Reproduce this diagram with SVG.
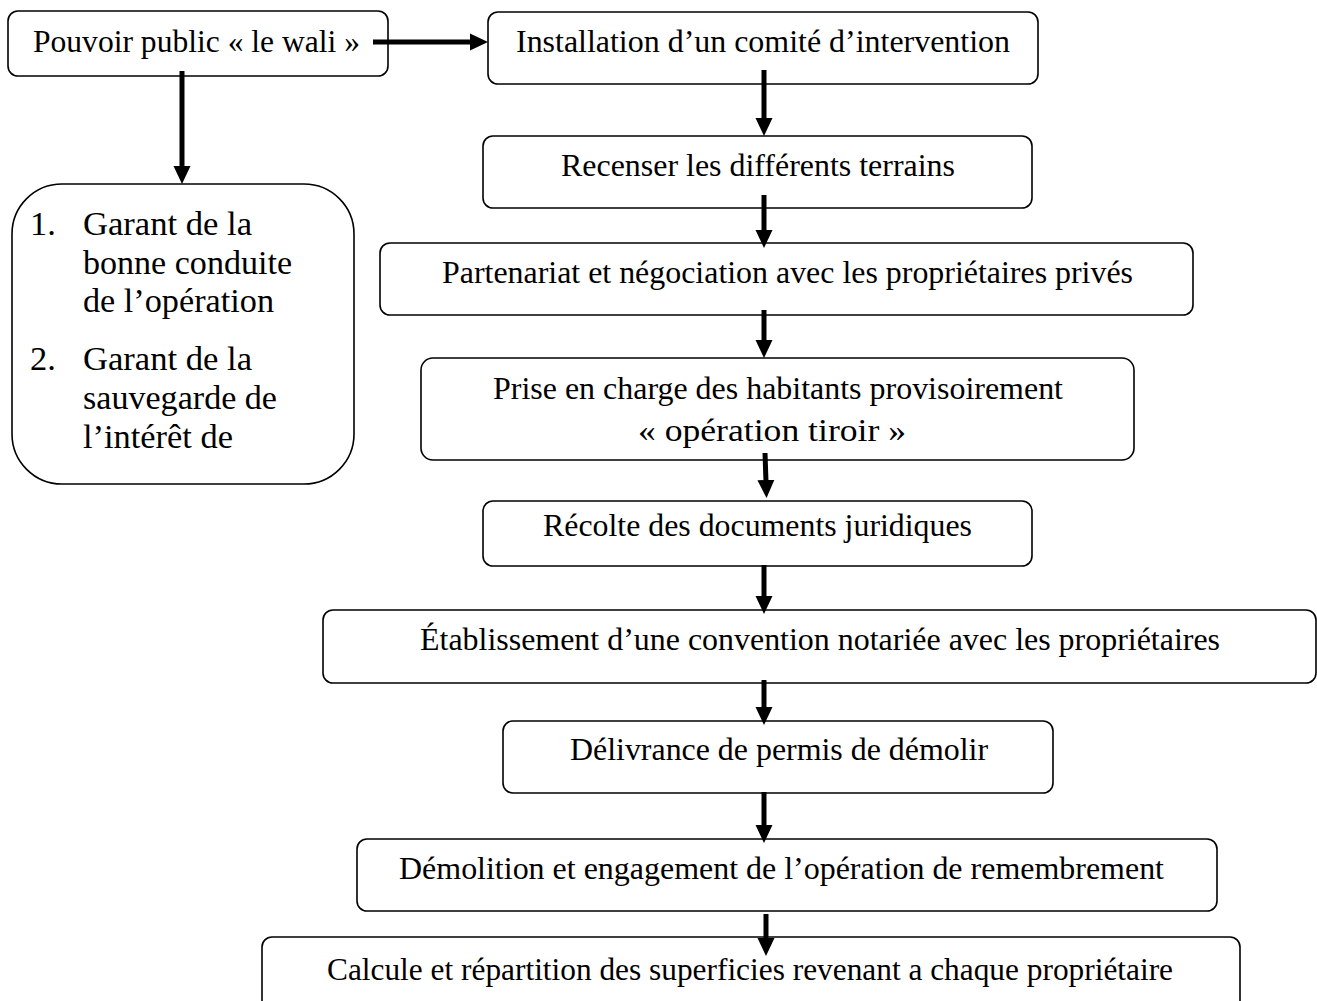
<svg xmlns="http://www.w3.org/2000/svg" width="1317" height="1001" viewBox="0 0 1317 1001">
<style>
.box{fill:#fff;stroke:#000;stroke-width:1.6}
text{font-family:'Liberation Serif','Times New Roman',Times,serif;font-size:32px;fill:#000}
.l{font-size:34.5px}
.e{stroke:#000;stroke-width:5;fill:none}
</style>
<defs>
<marker id="ah" markerWidth="4" markerHeight="4" refX="0.4" refY="2" orient="auto" markerUnits="strokeWidth">
<path d="M0,0.3 L3.6,2 L0,3.7 Z" fill="#000"/>
</marker>
</defs>
<rect width="1317" height="1001" fill="#fff"/>
<g id="n-pouvoir"><rect class="box" x="8" y="11" width="380" height="65" rx="10"/><text x="33" y="52" textLength="327" lengthAdjust="spacingAndGlyphs">Pouvoir public « le wali »</text></g>
<g id="n-installation"><rect class="box" x="488" y="12" width="550" height="72" rx="10"/><text x="516" y="52" textLength="494" lengthAdjust="spacingAndGlyphs">Installation d’un comité d’intervention</text></g>
<g id="n-recenser"><rect class="box" x="483" y="136" width="549" height="72" rx="10"/><text x="561" y="176" textLength="394" lengthAdjust="spacingAndGlyphs">Recenser les différents terrains</text></g>
<g id="n-partenariat"><rect class="box" x="380" y="243" width="813" height="72" rx="10"/><text x="442" y="283" textLength="691" lengthAdjust="spacingAndGlyphs">Partenariat et négociation avec les propriétaires privés</text></g>
<g id="n-prise"><rect class="box" x="421" y="358" width="713" height="102" rx="12"/><text x="493" y="399" textLength="570" lengthAdjust="spacingAndGlyphs">Prise en charge des habitants provisoirement</text><text x="638" y="441" textLength="268" lengthAdjust="spacingAndGlyphs">« opération tiroir »</text></g>
<g id="n-recolte"><rect class="box" x="483" y="501" width="549" height="65" rx="10"/><text x="543" y="536" textLength="429" lengthAdjust="spacingAndGlyphs">Récolte des documents juridiques</text></g>
<g id="n-etablissement"><rect class="box" x="323" y="610" width="993" height="73" rx="10"/><text x="420" y="650" textLength="800" lengthAdjust="spacingAndGlyphs">Établissement d’une convention notariée avec les propriétaires</text></g>
<g id="n-delivrance"><rect class="box" x="503" y="721" width="550" height="72" rx="10"/><text x="570" y="760" textLength="418" lengthAdjust="spacingAndGlyphs">Délivrance de permis de démolir</text></g>
<g id="n-demolition"><rect class="box" x="357" y="839" width="860" height="72" rx="10"/><text x="399" y="879" textLength="765" lengthAdjust="spacingAndGlyphs">Démolition et engagement de l’opération de remembrement</text></g>
<g id="n-calcule"><rect class="box" x="262" y="937" width="978" height="90" rx="10"/><text x="327" y="980" textLength="846" lengthAdjust="spacingAndGlyphs">Calcule et répartition des superficies revenant a chaque propriétaire</text></g>
<g id="n-garant"><rect class="box" x="12" y="184" width="342" height="300" rx="50"/>
<text class="l" x="30" y="235">1.</text><text class="l" x="83" y="235" textLength="169" lengthAdjust="spacingAndGlyphs">Garant de la</text>
<text class="l" x="83" y="274" textLength="209" lengthAdjust="spacingAndGlyphs">bonne conduite</text>
<text class="l" x="83" y="312" textLength="191" lengthAdjust="spacingAndGlyphs">de l’opération</text>
<text class="l" x="30" y="370">2.</text><text class="l" x="83" y="370" textLength="169" lengthAdjust="spacingAndGlyphs">Garant de la</text>
<text class="l" x="83" y="409" textLength="194" lengthAdjust="spacingAndGlyphs">sauvegarde de</text>
<text class="l" x="83" y="448" textLength="150" lengthAdjust="spacingAndGlyphs">l’intérêt de</text></g>
<g id="connectors">
<line class="e" x1="373" y1="42" x2="472" y2="42" marker-end="url(#ah)"/>
<line class="e" x1="182" y1="71" x2="182" y2="168" marker-end="url(#ah)"/>
<line class="e" x1="764" y1="70" x2="764" y2="120" marker-end="url(#ah)"/>
<line class="e" x1="764" y1="195" x2="764" y2="232" marker-end="url(#ah)"/>
<line class="e" x1="764" y1="310" x2="764" y2="342" marker-end="url(#ah)"/>
<line class="e" x1="765" y1="453" x2="766" y2="482" marker-end="url(#ah)"/>
<line class="e" x1="764" y1="565" x2="764" y2="598" marker-end="url(#ah)"/>
<line class="e" x1="764" y1="680" x2="764" y2="709" marker-end="url(#ah)"/>
<line class="e" x1="764" y1="792" x2="764" y2="827" marker-end="url(#ah)"/>
<line class="e" x1="766" y1="914" x2="766" y2="940" marker-end="url(#ah)"/>
</g>
</svg>
